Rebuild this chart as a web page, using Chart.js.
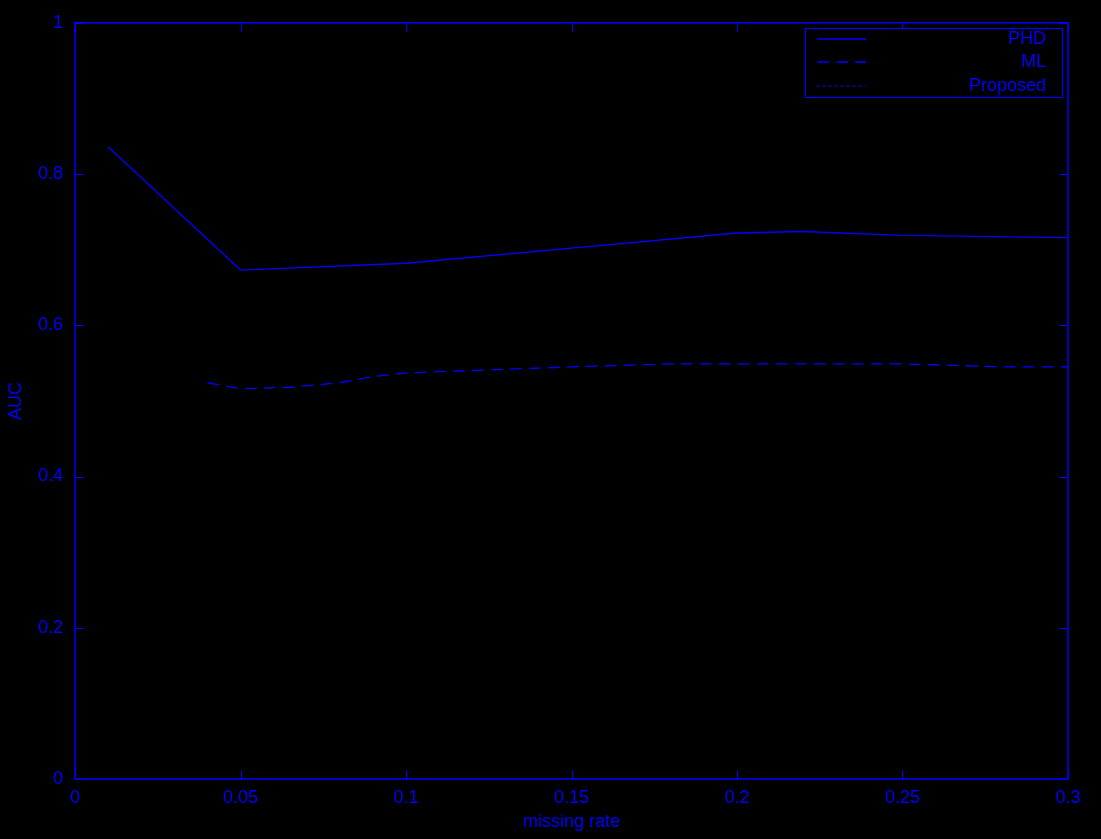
<!DOCTYPE html>
<html>
<head>
<meta charset="utf-8">
<script src="https://cdn.jsdelivr.net/npm/chart.js@4/dist/chart.umd.min.js"></script>
<style>
  html, body { margin: 0; padding: 0; background: #000; }
  #wrap { width: 1101px; height: 839px; }
</style>
</head>
<body>
<div id="wrap"><canvas id="c" width="1101" height="839"></canvas></div>
<script>
// ---- data ----
const seriesLabels = ["PHD", "ML", "Proposed"];
const x1 = [0.01, 0.05, 0.1, 0.15, 0.2, 0.22, 0.25, 0.3];
const y1 = [0.836, 0.673, 0.682, 0.702, 0.722, 0.724, 0.719, 0.716];
const x2 = [0.04, 0.05, 0.065, 0.08, 0.09, 0.1, 0.125, 0.15, 0.18, 0.2, 0.25, 0.28, 0.3];
const y2 = [0.524, 0.516, 0.518, 0.524, 0.532, 0.537, 0.541, 0.545, 0.549, 0.549, 0.549, 0.545, 0.545];
const x3 = [];
const y3 = [];
const xTickLabels = ["0", "0.05", "0.1", "0.15", "0.2", "0.25", "0.3"];
const yTickLabels = ["0", "0.2", "0.4", "0.6", "0.8", "1"];
const xTitle = "missing rate";
const yTitle = "AUC";

const BLUE = "#0000ff";
const FONT = "'Liberation Sans', Arial, sans-serif";

function pts(xs, ys) { return xs.map((x, i) => ({ x: x, y: ys[i] })); }

const boxPlugin = {
  id: 'boxPlugin',
  beforeDraw(chart) {
    const ctx = chart.ctx;
    ctx.save();
    ctx.fillStyle = '#000';
    ctx.fillRect(0, 0, chart.width, chart.height);
    ctx.restore();
  },
  afterDraw(chart) {
    const ctx = chart.ctx;
    const a = chart.chartArea;
    const xs = chart.scales.x, ys = chart.scales.y;
    ctx.save();
    ctx.strokeStyle = BLUE;
    ctx.lineWidth = 1.5;
    ctx.strokeRect(a.left, a.top, a.right - a.left, a.bottom - a.top);
    // inward ticks
    ctx.lineWidth = 1;
    const tl = 9;
    xs.ticks.forEach(t => {
      const px = Math.round(xs.getPixelForValue(t.value)) + 0.5;
      ctx.beginPath();
      ctx.moveTo(px, a.bottom); ctx.lineTo(px, a.bottom - tl);
      ctx.moveTo(px, a.top); ctx.lineTo(px, a.top + tl);
      ctx.stroke();
    });
    ys.ticks.forEach(t => {
      const py = Math.round(ys.getPixelForValue(t.value)) + 0.5;
      ctx.beginPath();
      ctx.moveTo(a.left, py); ctx.lineTo(a.left + tl, py);
      ctx.moveTo(a.right, py); ctx.lineTo(a.right - tl, py);
      ctx.stroke();
    });
    // legend box (top-right, inside axes)
    const bx = 805, by = 28, bw = 257, bh = 69;
    ctx.fillStyle = '#000';
    ctx.fillRect(bx, by, bw, bh);
    ctx.lineWidth = 1.2;
    ctx.strokeStyle = BLUE;
    ctx.strokeRect(bx + 0.5, by + 0.5, bw, bh);
    const rowY = [39, 62, 86];
    ctx.font = "18px " + FONT;
    ctx.textAlign = 'right';
    ctx.textBaseline = 'middle';
    chart.data.datasets.forEach((ds, i) => {
      ctx.beginPath();
      ctx.setLineDash(ds.borderDash || []);
      ctx.lineWidth = ds.borderWidth;
      ctx.strokeStyle = ds.borderColor;
      ctx.moveTo(817, rowY[i]); ctx.lineTo(866, rowY[i]);
      ctx.stroke();
      ctx.setLineDash([]);
      ctx.fillStyle = BLUE;
      ctx.fillText(ds.label, 1046, rowY[i]);
    });
    ctx.restore();
  }
};

new Chart(document.getElementById('c'), {
  type: 'line',
  data: {
    datasets: [
      { label: seriesLabels[0], data: pts(x1, y1), borderColor: BLUE, borderWidth: 1.3, pointRadius: 0, fill: false, tension: 0 },
      { label: seriesLabels[1], data: pts(x2, y2), borderColor: BLUE, borderWidth: 1.3, borderDash: [12, 7], pointRadius: 0, fill: false, tension: 0 },
      { label: seriesLabels[2], data: pts(x3, y3), borderColor: BLUE, borderWidth: 1.3, borderDash: [2, 4], pointRadius: 0, fill: false, tension: 0 }
    ]
  },
  options: {
    responsive: false,
    animation: false,
    layout: { padding: { left: 5, right: 33, top: 21, bottom: 6 } },
    plugins: { legend: { display: false }, tooltip: { enabled: false } },
    scales: {
      x: {
        type: 'linear', min: 0, max: 0.3,
        grid: { display: false, drawTicks: false },
        border: { display: false },
        ticks: {
          stepSize: 0.05, color: BLUE, padding: 8, maxRotation: 0,
          font: { family: FONT, size: 18 },
          callback: (v) => { const i = Math.round(v / 0.05); return xTickLabels[i]; }
        },
        title: { display: true, text: xTitle, color: BLUE, font: { family: FONT, size: 18 }, padding: 0 },
        afterFit: (s) => { s.height = 54; }
      },
      y: {
        min: 0, max: 1,
        grid: { display: false, drawTicks: false },
        border: { display: false },
        ticks: {
          stepSize: 0.2, color: BLUE, padding: 12,
          font: { family: FONT, size: 18 },
          callback: (v) => { const i = Math.round(v / 0.2); return yTickLabels[i]; }
        },
        title: { display: true, text: yTitle, color: BLUE, font: { family: FONT, size: 18 }, padding: 0 },
        afterFit: (s) => { s.width = 70; }
      }
    }
  },
  plugins: [boxPlugin]
});
</script>
</body>
</html>
